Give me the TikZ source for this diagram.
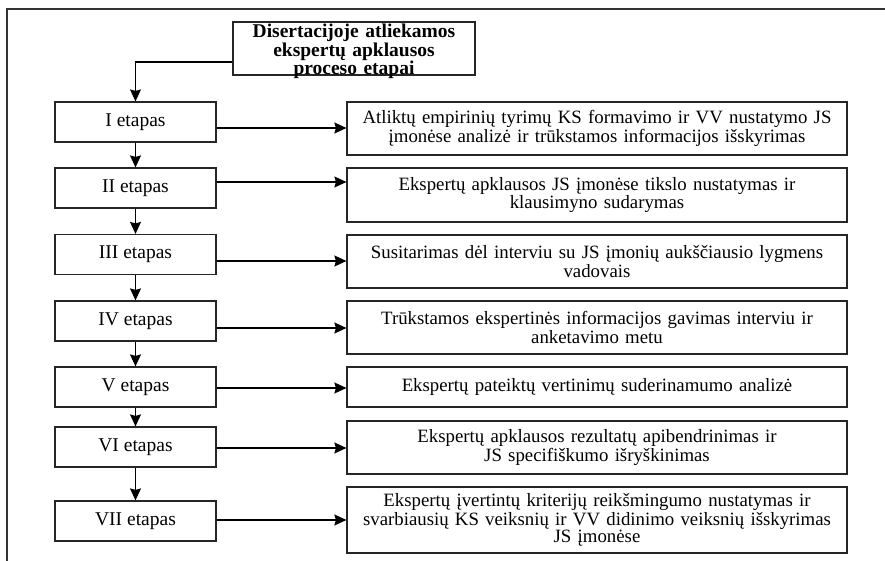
\documentclass[tikz,border=0pt]{standalone}
\usepackage{fontspec}
\setmainfont{Liberation Serif}
\usetikzlibrary{arrows.meta,positioning,calc}

\tikzset{
  x=1pt, y=1pt,
  frameline/.style={draw=black!80, line width=1.8pt},
  stagebox/.style={draw=black!85, line width=1.2pt, minimum width=161pt, minimum height=40pt,
    inner sep=0pt, font=\fontsize{19.5}{16.5}\selectfont},
  descbox/.style={draw=black!85, line width=1.2pt, minimum width=500pt, text width=494pt,
    align=center, inner sep=0pt, font=\fontsize{18.8}{16.5}\selectfont},
  titlebox/.style={draw=black!85, line width=1.2pt, minimum width=242pt, minimum height=53pt,
    inner sep=0pt},
  titletext/.style={text width=240pt, align=center, inner sep=0pt,
    font=\fontsize{19.5}{18.5}\selectfont\bfseries},
  arr/.style={draw=black, line width=1.2pt, -{Stealth[length=12pt,width=11pt,inset=1.5pt]}}
}

\begin{document}
\begin{tikzpicture}
\useasboundingbox (0,0) rectangle (885,-561);

% open frame: top and left edges only
\draw[frameline] (7,-561) -- (7,-9) -- (885,-9);

% heading
\node[titlebox, label={[titletext, yshift=-3pt]center:{Disertacijoje atliekamos\\ekspertų apklausos\\proceso etapai}}]
  (T) at (354,-48.5) {};

% stages
\node[stagebox] (S1) at (135.5,-122) {I etapas};
\node[stagebox] (S2) at (135.5,-188) {II etapas};
\node[stagebox] (S3) at (135.5,-254.5) {III etapas};
\node[stagebox] (S4) at (135.5,-321) {IV etapas};
\node[stagebox] (S5) at (135.5,-387) {V etapas};
\node[stagebox] (S6) at (135.5,-447) {VI etapas};
\node[stagebox] (S7) at (135.5,-521) {VII etapas};

% stage descriptions
\node[descbox, minimum height=53pt] (D1) at (597,-128.5)
  {Atliktų empirinių tyrimų KS formavimo ir VV nustatymo JS\\įmonėse analizė ir trūkstamos informacijos išskyrimas};
\node[descbox, minimum height=54pt] (D2) at (597,-195)
  {Ekspertų apklausos JS įmonėse tikslo nustatymas ir\\klausimyno sudarymas};
\node[descbox, minimum height=53pt] (D3) at (597,-261.5)
  {Susitarimas dėl interviu su JS įmonių aukščiausio lygmens\\vadovais};
\node[descbox, minimum height=53pt] (D4) at (597,-327.5)
  {Trūkstamos ekspertinės informacijos gavimas interviu ir\\anketavimo metu};
\node[descbox, minimum height=40pt] (D5) at (597,-387)
  {Ekspertų pateiktų vertinimų suderinamumo analizė};
\node[descbox, minimum height=53pt] (D6) at (597,-447.5)
  {Ekspertų apklausos rezultatų apibendrinimas ir\\JS specifiškumo išryškinimas};
\node[descbox, minimum height=66pt] (D7) at (597,-520)
  {Ekspertų įvertintų kriterijų reikšmingumo nustatymas ir\\svarbiausių KS veiksnių ir VV didinimo veiksnių išskyrimas\\JS įmonėse};

% heading to first stage
\draw[arr] ([yshift=-13.5pt]T.west) -| (S1.north);

% stage sequence
\draw[arr] (S1.south) -- (S2.north);
\draw[arr] (S2.south) -- (S3.north);
\draw[arr] (S3.south) -- (S4.north);
\draw[arr] (S4.south) -- (S5.north);
\draw[arr] (S5.south) -- (S6.north);
\draw[arr] (S6.south) -- (S7.north);

% stage to description
\draw[arr] ([yshift=-6pt]S1.east) -- ([yshift=-6pt]S1.east -| D1.west);
\draw[arr] ([yshift=6pt]S2.east) -- ([yshift=6pt]S2.east -| D2.west);
\draw[arr] ([yshift=-6.5pt]S3.east) -- ([yshift=-6.5pt]S3.east -| D3.west);
\draw[arr] ([yshift=-7pt]S4.east) -- ([yshift=-7pt]S4.east -| D4.west);
\draw[arr] ([yshift=-1pt]S5.east) -- ([yshift=-1pt]S5.east -| D5.west);
\draw[arr] ([yshift=-1pt]S6.east) -- ([yshift=-1pt]S6.east -| D6.west);
\draw[arr] ([yshift=1pt]S7.east) -- ([yshift=1pt]S7.east -| D7.west);
\end{tikzpicture}
\end{document}
